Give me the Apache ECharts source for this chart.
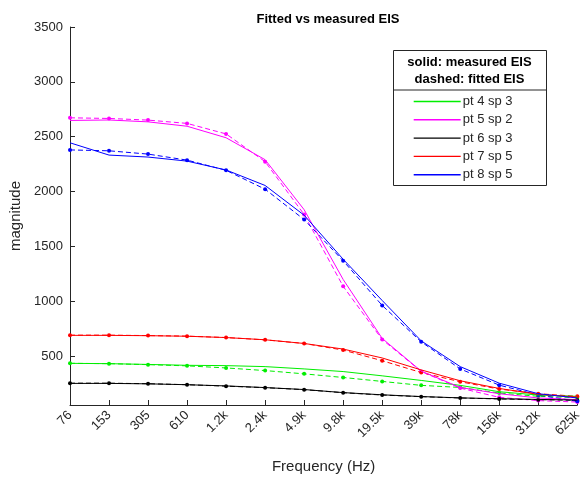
<!DOCTYPE html>
<html>
<head>
<meta charset="utf-8">
<script src="https://cdn.jsdelivr.net/npm/echarts@6/dist/echarts.min.js"></script>
<style>
html, body { margin: 0; padding: 0; background: #fff; }
#chart { width: 584px; height: 479px; }
</style>
</head>
<body>
<div id="chart"></div>
<script>
// frequency labels (log spaced, shown as categories)
var freqs = ["76", "153", "305", "610", "1.2k", "2.4k", "4.9k", "9.8k", "19.5k", "39k", "78k", "156k", "312k", "625k"];
var yTicks = [500, 1000, 1500, 2000, 2500, 3000, 3500];

// measured (solid)
var pt4Meas = [433, 430, 423, 415, 412, 403, 382, 358, 319, 277, 232, 174, 144, 132];
var pt5Meas = [2648, 2652, 2635, 2595, 2490, 2290, 1834, 1198, 660, 362, 213, 156, 117, 102];
var pt6Meas = [250, 250, 246, 238, 227, 212, 194, 166, 146, 130, 118, 110, 104, 98];
var pt7Meas = [688, 688, 685, 680, 668, 648, 614, 563, 482, 373, 274, 204, 150, 126];
var pt8Meas = [2444, 2332, 2314, 2277, 2196, 2055, 1784, 1382, 1006, 638, 403, 252, 156, 117];

// fitted (dashed)
var pt4Fit = [433, 430, 421, 410, 391, 367, 337, 304, 268, 232, 213, 162, 132, 120];
var pt5Fit = [2672, 2666, 2651, 2621, 2525, 2272, 1790, 1135, 650, 359, 207, 123, 93, 80];
var pt6Fit = [252, 252, 247, 238, 225, 211, 193, 165, 144, 129, 117, 108, 102, 96];
var pt7Fit = [690, 690, 686, 681, 668, 647, 614, 554, 457, 349, 265, 198, 156, 132];
var pt8Fit = [2379, 2371, 2341, 2286, 2193, 2021, 1744, 1368, 961, 629, 382, 234, 144, 87];

var names = ["pt 4 sp 3", "pt 5 sp 2", "pt 6 sp 3", "pt 7 sp 5", "pt 8 sp 5"];
var colors = ["#00ee00", "#ff00ff", "#000000", "#ff0000", "#0000ff"];
var measured = [pt4Meas, pt5Meas, pt6Meas, pt7Meas, pt8Meas];
var fitted = [pt4Fit, pt5Fit, pt6Fit, pt7Fit, pt8Fit];

var font = "Liberation Sans, Arial, sans-serif";
var series = [];
for (var i = 0; i < names.length; i++) {
    series.push({
        name: names[i],
        type: "line",
        data: measured[i],
        showSymbol: false,
        symbol: "none",
        color: colors[i],
        lineStyle: { width: 1, color: colors[i] },
        animation: false,
        z: 3
    });
    series.push({
        name: names[i] + " fit",
        type: "line",
        data: fitted[i],
        symbol: "circle",
        symbolSize: 4,
        color: colors[i],
        itemStyle: { color: colors[i] },
        lineStyle: { width: 1, type: [5, 3], color: colors[i] },
        animation: false,
        z: 2
    });
}

var chart = echarts.init(document.getElementById("chart"));
chart.setOption({
    backgroundColor: "#fff",
    animation: false,
    title: {
        text: "Fitted vs measured EIS",
        left: 323, top: 8, textAlign: "center",
        textStyle: { fontFamily: font, fontSize: 13, fontWeight: "bold", color: "#000" }
    },
    grid: { left: 69, right: 6, top: 27, bottom: 70 },
    legend: {
        data: names,
        orient: "vertical",
        left: 413, top: 95,
        z: 20,
        itemWidth: 47, itemHeight: 14, itemGap: 5.3,
        itemStyle: { opacity: 0 },
        lineStyle: { width: 1.4 },
        textStyle: { fontFamily: font, fontSize: 13, color: "#262626", padding: [0, 0, 0, -3] },
        padding: 0
    },
    graphic: [
        { type: "rect", left: 393, top: 50, shape: { width: 153, height: 135 },
          style: { fill: "#fff", stroke: "#262626", lineWidth: 1 }, z: 0, silent: true },
        { type: "line", shape: { x1: 393, y1: 90, x2: 546, y2: 90 },
          style: { stroke: "#262626", lineWidth: 1 }, z: 1 },
        { type: "text", x: 469.5, y: 54, z: 1,
          style: { text: "solid: measured EIS\ndashed: fitted EIS", textAlign: "center", lineHeight: 17,
                   fontFamily: font, fontSize: 13, fontWeight: "bold", fill: "#000" } }
    ],
    xAxis: {
        type: "category",
        data: freqs,
        boundaryGap: false,
        name: "Frequency (Hz)",
        nameLocation: "middle",
        nameGap: 54,
        nameTextStyle: { fontFamily: font, fontSize: 15, color: "#262626" },
        axisLine: { lineStyle: { color: "#262626" } },
        axisTick: { inside: true, length: 5, alignWithLabel: true, lineStyle: { color: "#262626" } },
        axisLabel: { rotate: 45, fontFamily: font, fontSize: 13, color: "#262626", margin: 8, interval: 0 },
        splitLine: { show: false }
    },
    yAxis: {
        type: "value",
        min: 53, max: 3500,
        name: "magnitude",
        nameLocation: "middle",
        nameGap: 47,
        nameTextStyle: { fontFamily: font, fontSize: 15, color: "#262626" },
        axisLine: { show: true, lineStyle: { color: "#262626" } },
        axisTick: { show: true, inside: true, length: 5, customValues: yTicks, lineStyle: { color: "#262626" } },
        axisLabel: { customValues: yTicks, formatter: function (v) { return String(v); },
                     fontFamily: font, fontSize: 13, color: "#262626", margin: 7 },
        splitLine: { show: false }
    },
    series: series
});
</script>
</body>
</html>
